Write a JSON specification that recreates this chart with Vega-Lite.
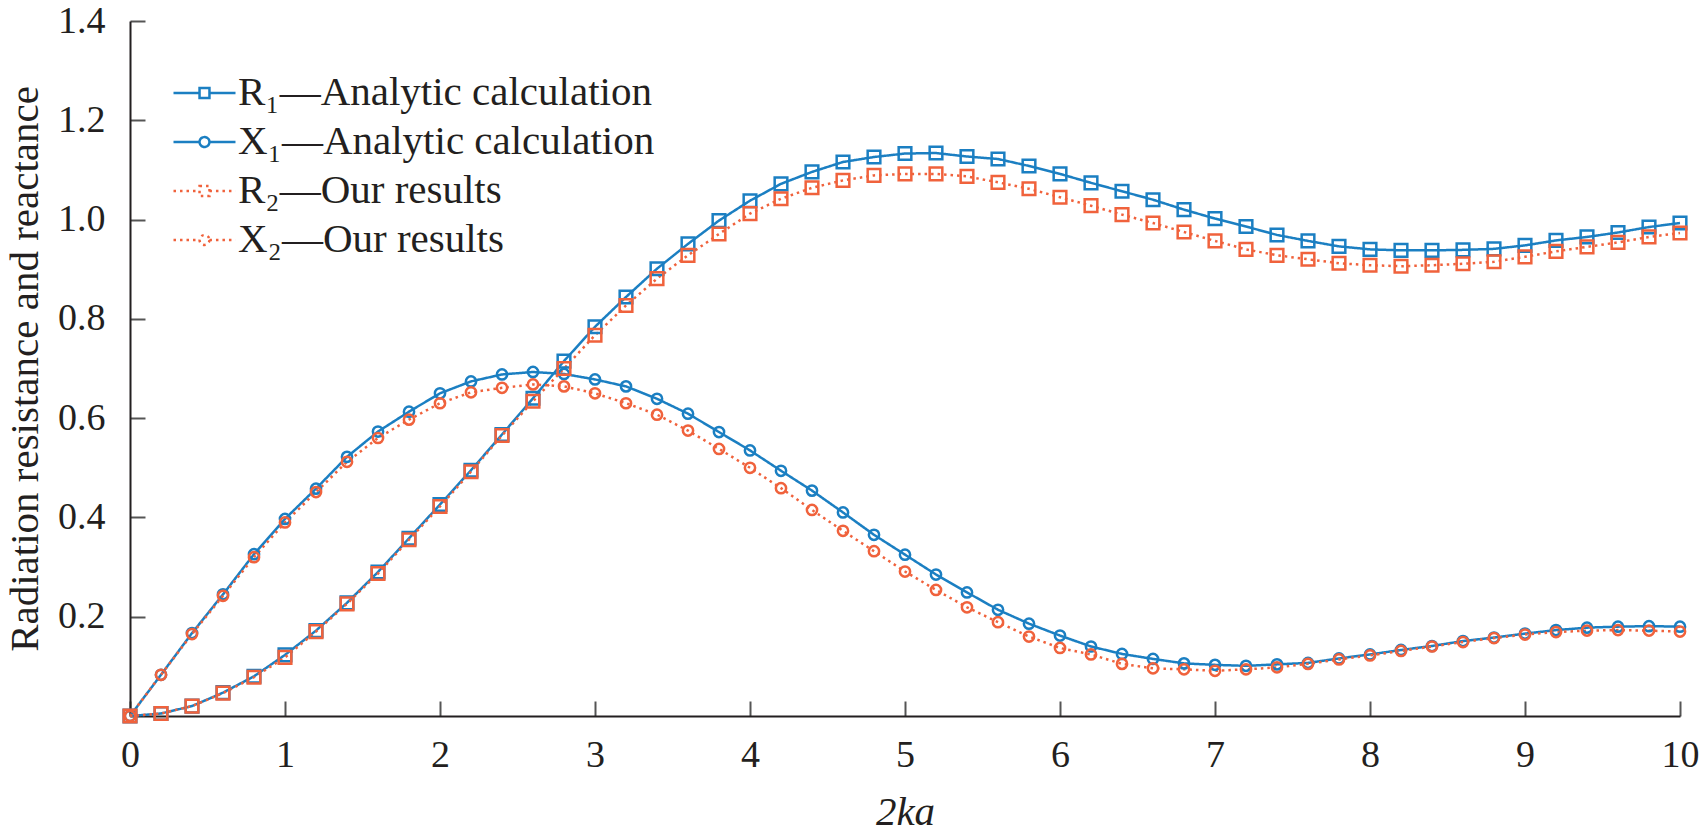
{
  "$schema": "https://vega.github.io/schema/vega-lite/v6.json",
  "autosize": {"type": "none"},
  "width": 1550,
  "height": 695,
  "padding": {"left": 130, "top": 21, "right": 22, "bottom": 120},
  "background": "white",
  "data": {
    "values": [
      {"x": 0, "R1": 0, "X1": 0, "R2": 0, "X2": 0},
      {"x": 0.2, "R1": 0.005, "X1": 0.083, "R2": 0.005, "X2": 0.083},
      {"x": 0.4, "R1": 0.02, "X1": 0.167, "R2": 0.02, "X2": 0.165},
      {"x": 0.6, "R1": 0.047, "X1": 0.245, "R2": 0.046, "X2": 0.242},
      {"x": 0.8, "R1": 0.08, "X1": 0.326, "R2": 0.078, "X2": 0.32},
      {"x": 1.0, "R1": 0.123, "X1": 0.397, "R2": 0.118, "X2": 0.39},
      {"x": 1.2, "R1": 0.172, "X1": 0.458, "R2": 0.17, "X2": 0.451},
      {"x": 1.4, "R1": 0.228, "X1": 0.522, "R2": 0.226, "X2": 0.512},
      {"x": 1.6, "R1": 0.29, "X1": 0.573, "R2": 0.287, "X2": 0.56},
      {"x": 1.8, "R1": 0.358, "X1": 0.613, "R2": 0.355, "X2": 0.597},
      {"x": 2.0, "R1": 0.426, "X1": 0.65, "R2": 0.422, "X2": 0.63},
      {"x": 2.2, "R1": 0.495, "X1": 0.674, "R2": 0.492, "X2": 0.652},
      {"x": 2.4, "R1": 0.567, "X1": 0.688, "R2": 0.565, "X2": 0.661},
      {"x": 2.6, "R1": 0.64, "X1": 0.693, "R2": 0.634, "X2": 0.668},
      {"x": 2.8, "R1": 0.715, "X1": 0.689, "R2": 0.7, "X2": 0.664},
      {"x": 3.0, "R1": 0.784, "X1": 0.678, "R2": 0.767, "X2": 0.65},
      {"x": 3.2, "R1": 0.844, "X1": 0.664, "R2": 0.827, "X2": 0.63},
      {"x": 3.4, "R1": 0.901, "X1": 0.639, "R2": 0.881, "X2": 0.607},
      {"x": 3.6, "R1": 0.951, "X1": 0.609, "R2": 0.928, "X2": 0.575},
      {"x": 3.8, "R1": 0.998, "X1": 0.572, "R2": 0.971, "X2": 0.538},
      {"x": 4.0, "R1": 1.038, "X1": 0.535, "R2": 1.012, "X2": 0.5},
      {"x": 4.2, "R1": 1.072, "X1": 0.494, "R2": 1.042, "X2": 0.459},
      {"x": 4.4, "R1": 1.096, "X1": 0.454, "R2": 1.064, "X2": 0.415},
      {"x": 4.6, "R1": 1.116, "X1": 0.41, "R2": 1.079, "X2": 0.373},
      {"x": 4.8, "R1": 1.126, "X1": 0.365, "R2": 1.089, "X2": 0.332},
      {"x": 5.0, "R1": 1.133, "X1": 0.325, "R2": 1.092, "X2": 0.291},
      {"x": 5.2, "R1": 1.134, "X1": 0.285, "R2": 1.092, "X2": 0.254},
      {"x": 5.4, "R1": 1.127, "X1": 0.249, "R2": 1.087, "X2": 0.219},
      {"x": 5.6, "R1": 1.122, "X1": 0.214, "R2": 1.075, "X2": 0.189},
      {"x": 5.8, "R1": 1.108, "X1": 0.186, "R2": 1.062, "X2": 0.16},
      {"x": 6.0, "R1": 1.092, "X1": 0.162, "R2": 1.045, "X2": 0.137},
      {"x": 6.2, "R1": 1.074, "X1": 0.14, "R2": 1.028, "X2": 0.124},
      {"x": 6.4, "R1": 1.057, "X1": 0.125, "R2": 1.01, "X2": 0.105},
      {"x": 6.6, "R1": 1.04, "X1": 0.115, "R2": 0.993, "X2": 0.096},
      {"x": 6.8, "R1": 1.02, "X1": 0.106, "R2": 0.975, "X2": 0.094},
      {"x": 7.0, "R1": 1.002, "X1": 0.103, "R2": 0.957, "X2": 0.091},
      {"x": 7.2, "R1": 0.986, "X1": 0.101, "R2": 0.94, "X2": 0.094},
      {"x": 7.4, "R1": 0.969, "X1": 0.104, "R2": 0.928, "X2": 0.098},
      {"x": 7.6, "R1": 0.957, "X1": 0.107, "R2": 0.92, "X2": 0.105},
      {"x": 7.8, "R1": 0.946, "X1": 0.116, "R2": 0.912, "X2": 0.114},
      {"x": 8.0, "R1": 0.94, "X1": 0.124, "R2": 0.908, "X2": 0.122},
      {"x": 8.2, "R1": 0.938, "X1": 0.133, "R2": 0.906, "X2": 0.131},
      {"x": 8.4, "R1": 0.938, "X1": 0.141, "R2": 0.908, "X2": 0.14},
      {"x": 8.6, "R1": 0.939, "X1": 0.151, "R2": 0.911, "X2": 0.149},
      {"x": 8.8, "R1": 0.941, "X1": 0.158, "R2": 0.915, "X2": 0.157},
      {"x": 9.0, "R1": 0.948, "X1": 0.166, "R2": 0.925, "X2": 0.164},
      {"x": 9.2, "R1": 0.958, "X1": 0.173, "R2": 0.936, "X2": 0.169},
      {"x": 9.4, "R1": 0.965, "X1": 0.178, "R2": 0.945, "X2": 0.172},
      {"x": 9.6, "R1": 0.974, "X1": 0.18, "R2": 0.954, "X2": 0.173},
      {"x": 9.8, "R1": 0.985, "X1": 0.181, "R2": 0.965, "X2": 0.172},
      {"x": 10.0, "R1": 0.993, "X1": 0.18, "R2": 0.973, "X2": 0.17}
    ]
  },
  "transform": [
    {"fold": ["R1", "X1", "R2", "X2"], "as": ["series", "value"]}
  ],
  "encoding": {
    "x": {
      "field": "x",
      "type": "quantitative",
      "scale": {"domain": [0, 10], "nice": false},
      "axis": {"values": [0, 1, 2, 3, 4, 5, 6, 7, 8, 9, 10], "format": "d"},
      "title": "2ka"
    },
    "y": {
      "field": "value",
      "type": "quantitative",
      "scale": {"domain": [0, 1.4], "nice": false},
      "axis": {"values": [0.2, 0.4, 0.6, 0.8, 1.0, 1.2, 1.4], "format": ".1f", "titlePadding": 11},
      "title": "Radiation resistance and reactance"
    },
    "color": {
      "field": "series",
      "type": "nominal",
      "scale": {"domain": ["R1", "X1", "R2", "X2"], "range": ["#1b7fc2", "#1b7fc2", "#f0623c", "#f0623c"]},
      "legend": {
        "title": null,
        "orient": "none",
        "legendX": 42,
        "legendY": 53,
        "labelExpr": "datum.value == 'R1' ? 'R₁—Analytic calculation' : datum.value == 'X1' ? 'X₁—Analytic calculation' : datum.value == 'R2' ? 'R₂—Our results' : 'X₂—Our results'",
        "labelLimit": 0,
        "symbolSize": 3844,
        "symbolStrokeWidth": 2.5,
        "labelOffset": 1,
        "clipHeight": 38,
        "rowPadding": 8,
        "encode": {
          "symbols": {
            "update": {
              "shape": {"signal": "(datum.value == 'R1' || datum.value == 'R2') ? 'M-1,0H-0.16M0.16,0H1M-0.16,-0.16H0.16V0.16H-0.16Z' : 'M-1,0H-0.16M0.16,0H1M0.16,0A0.16,0.16 0 1,1 -0.16,0A0.16,0.16 0 1,1 0.16,0'"},
              "fill": {"value": "transparent"}
            }
          }
        }
      }
    }
  },
  "layer": [
    {
      "mark": {"type": "line", "strokeWidth": 2.5},
      "encoding": {
        "strokeDash": {
          "field": "series",
          "type": "nominal",
          "scale": {"domain": ["R1", "X1", "R2", "X2"], "range": [[1, 0], [1, 0], [2.5, 4], [2.5, 4]]},
          "legend": null
        }
      }
    },
    {
      "mark": {"type": "point", "filled": false, "strokeWidth": 2.5, "opacity": 1},
      "encoding": {
        "shape": {
          "condition": {"test": "datum.series == 'R1' || datum.series == 'R2'", "value": "square"},
          "value": "circle"
        },
        "size": {
          "condition": {"test": "datum.series == 'R1' || datum.series == 'R2'", "value": 160},
          "value": 105
        }
      }
    }
  ],
  "config": {
    "view": {"stroke": null},
    "font": "Liberation Serif",
    "axis": {
      "grid": false,
      "labelFont": "Liberation Serif",
      "labelFontSize": 38,
      "labelColor": "#231f20",
      "titleFont": "Liberation Serif",
      "titleFontSize": 41,
      "titleFontWeight": "normal",
      "titleColor": "#231f20",
      "domainColor": "#231f20",
      "domainWidth": 2,
      "tickColor": "#555555",
      "tickWidth": 2,
      "tickSize": -15
    },
    "axisX": {"titleFontStyle": "italic", "titlePadding": 18, "labelPadding": 35, "labelFlush": false},
    "axisY": {"labelPadding": 40},
    "legend": {
      "labelFont": "Liberation Serif",
      "labelFontSize": 41,
      "labelColor": "#231f20"
    }
  }
}
